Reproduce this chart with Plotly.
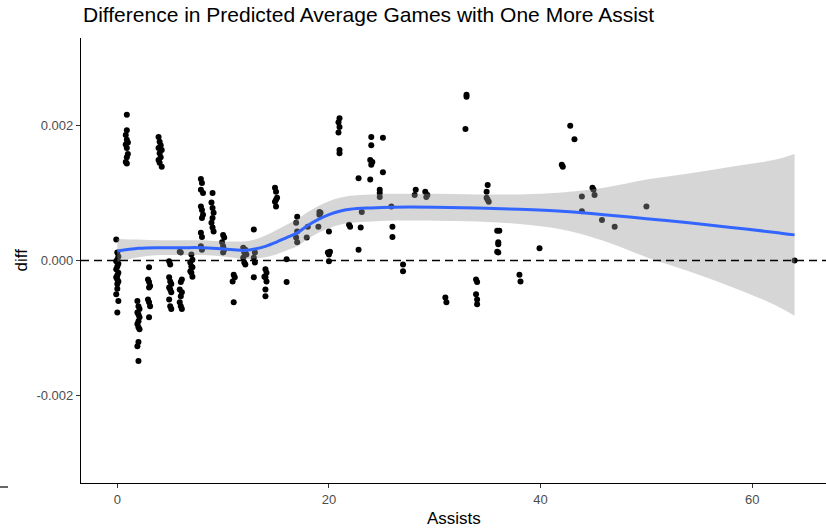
import plotly.graph_objects as go

# ---------------- data (diff values in thousandths, i.e. x 1e-3) ----------------
assists = [
    # ~0
    -0.1, 0.0, 0.1, 0.0, -0.1, 0.1, 0.0, -0.1, 0.1, 0.0, -0.1, 0.0, 0.1, 0.0, 0.0, -0.1, 0.1, 0.0,
    # ~1
    0.9, 0.9, 0.8, 0.9, 1.0, 0.8, 0.9, 1.0, 0.9, 0.8, 0.9,
    # ~2
    1.9, 2.0, 2.1, 1.9, 2.0, 2.1, 2.0, 1.9, 2.0, 2.1, 2.0, 1.9, 2.0,
    # ~3
    3.0, 2.9, 3.0, 3.1, 3.0, 2.9, 3.0, 3.1, 3.0,
    # ~4
    3.9, 4.0, 4.1, 3.9, 4.2, 4.0, 4.1, 3.9, 4.0, 4.2,
    # ~5
    4.9, 5.0, 4.9, 5.0, 5.1, 4.9, 5.0, 5.1, 4.9, 5.0, 5.1,
    # ~6
    5.9, 6.0, 6.1, 6.0, 5.9, 6.1, 6.0, 5.9, 6.0, 6.1,
    # ~7
    7.0, 7.1, 6.9, 7.0, 7.1, 6.9, 7.0, 7.1,
    # ~8
    7.9, 8.0, 7.9, 8.1, 7.9, 8.0, 8.1, 8.0, 7.9, 8.0, 7.9, 8.0,
    # ~9
    9.0, 8.9, 9.0, 9.1, 9.0, 8.9, 9.0, 9.1,
    # ~10
    10.0, 10.1, 9.9, 10.0, 10.1, 10.0,
    # ~11
    11.0, 11.1, 10.9, 11.0,
    # ~12
    11.9, 12.1, 12.0, 12.2, 11.9, 12.0, 12.1,
    # ~13
    12.9, 13.0, 12.9, 13.0, 12.9,
    # ~14
    14.0, 14.1, 13.9, 14.0, 14.1, 14.0, 14.0,
    # ~15
    14.9, 15.0, 15.1, 15.0, 14.9, 15.0,
    # ~16
    16.0, 16.0,
    # ~17
    17.0, 16.9, 17.0, 16.9, 17.0,
    # ~18
    18.0, 17.9,
    # ~19
    19.1, 19.2, 19.1, 19.0,
    # ~20
    20.0, 20.1, 19.9, 20.0, 20.0,
    # ~21
    21.0, 20.9, 21.0, 20.9, 21.0, 21.0,
    # ~22
    21.9, 22.0,
    # ~23
    22.8, 23.1, 23.0, 22.8,
    # ~24
    24.0, 24.0, 23.9, 24.1, 24.0, 23.9,
    # ~25
    25.1, 25.1, 24.8, 24.8, 24.8,
    # ~26
    25.9, 26.0, 26.0,
    # ~27
    27.0, 27.0,
    # ~28
    28.2, 28.1,
    # ~29
    29.1, 29.3, 29.2,
    # ~31
    31.0, 31.1,
    # ~33
    33.0, 33.0, 32.9,
    # ~34
    33.9, 34.0, 33.9, 34.0, 34.0,
    # ~35
    35.0, 34.9, 34.9, 35.0, 35.1,
    # ~36
    35.9, 36.1, 36.0, 36.0, 35.9, 36.0,
    # 38 .. 64
    38.0, 38.1,
    39.9,
    42.0, 42.1,
    42.8, 43.2,
    43.9, 43.9,
    44.9, 45.0, 45.1,
    45.8,
    47.0,
    50.0,
    64.0,
]

diff_milli = [
    0.31, 0.12, 0.06, 0.01, -0.01, -0.05, -0.09, -0.13, -0.18, -0.22, -0.25, -0.28, -0.31, -0.35, -0.42, -0.50, -0.60, -0.77,
    2.16, 1.93, 1.86, 1.79, 1.75, 1.72, 1.67, 1.58, 1.53, 1.46, 1.44,
    -0.60, -0.68, -0.72, -0.77, -0.80, -0.84, -0.90, -0.94, -0.99, -1.02, -1.21, -1.27, -1.49,
    -0.10, -0.28, -0.32, -0.38, -0.40, -0.58, -0.62, -0.68, -0.84,
    1.83, 1.76, 1.71, 1.67, 1.64, 1.59, 1.53, 1.49, 1.45, 1.39,
    -0.01, -0.06, -0.25, -0.31, -0.35, -0.40, -0.43, -0.47, -0.58, -0.68, -0.72,
    0.13, 0.12, -0.28, -0.32, -0.43, -0.47, -0.53, -0.62, -0.68, -0.72,
    0.09, 0.01, -0.03, -0.09, -0.10, -0.16, -0.18, -0.24,
    1.21, 1.15, 1.05, 1.00, 0.80, 0.75, 0.68, 0.63, 0.41, 0.35, 0.21, 0.16,
    1.00, 0.86, 0.78, 0.71, 0.63, 0.56, 0.49, 0.43,
    0.38, 0.34, 0.27, 0.21, 0.16, 0.12,
    -0.21, -0.25, -0.31, -0.62,
    0.19, 0.16, 0.12, 0.09, 0.04, -0.03, -0.06,
    0.46, 0.12, 0.04, -0.03, -0.25,
    -0.13, -0.18, -0.24, -0.25, -0.31, -0.43, -0.53,
    1.08, 1.02, 0.93, 0.90, 0.87, 0.80,
    0.02, -0.32,
    0.65, 0.56, 0.43, 0.34, 0.27,
    0.50, 0.34,
    0.72, 0.71, 0.68, 0.50,
    0.43, 0.13, 0.12, 0.09, -0.01,
    2.11, 2.05, 1.98, 1.90, 1.64, 1.59,
    0.53, 0.50,
    1.22, 0.72, 0.49, 0.16,
    1.83, 1.71, 1.49, 1.46, 1.42, 1.20,
    1.82, 1.31, 1.05, 1.00, 0.94,
    0.80, 0.50, 0.35,
    -0.06, -0.16,
    1.05, 0.97,
    1.02, 0.97, 0.94,
    -0.55, -0.62,
    2.46, 2.43, 1.95,
    -0.28, -0.32, -0.50, -0.58, -0.65,
    1.12, 1.02, 0.93, 0.90, 0.87,
    0.44, 0.44, 0.27, 0.24, 0.13, 0.12,
    -0.21, -0.31,
    0.18,
    1.42, 1.39,
    2.00, 1.80,
    0.95, 0.73,
    1.08, 1.05, 0.97,
    0.60,
    0.50,
    0.80,
    0.00,
]

# loess smooth and its confidence band (thousandths)
smooth_x = [0, 2, 4, 6, 8, 10, 11, 12, 13, 14, 15, 16, 17, 18, 19, 20, 21, 22, 24, 26, 30, 34, 38, 42, 46, 50, 54, 58, 62, 64]
smooth_fit = [0.14, 0.18, 0.19, 0.19, 0.19, 0.17, 0.16, 0.15, 0.17, 0.21, 0.27, 0.34, 0.41, 0.52, 0.61, 0.68, 0.73, 0.76, 0.78, 0.79,
              0.79, 0.78, 0.76, 0.73, 0.68, 0.62, 0.56, 0.49, 0.42, 0.38]
smooth_upper = [0.32, 0.31, 0.30, 0.30, 0.30, 0.28, 0.28, 0.28, 0.31, 0.37, 0.45, 0.53, 0.61, 0.72, 0.81, 0.88, 0.93, 0.96, 0.98, 0.99,
                0.99, 0.98, 0.98, 1.01, 1.08, 1.20, 1.29, 1.39, 1.49, 1.58]
smooth_lower = [-0.02, 0.05, 0.08, 0.08, 0.08, 0.06, 0.04, 0.02, 0.03, 0.05, 0.09, 0.15, 0.21, 0.32, 0.41, 0.48, 0.53, 0.56, 0.58, 0.59,
                0.59, 0.58, 0.54, 0.46, 0.29, 0.05, -0.16, -0.39, -0.65, -0.82]

x_ticks = [0, 20, 40, 60]
y_ticks = [-0.002, 0.0, 0.002]
y_tick_text = ["-0.002", "0.000", "0.002"]

title_text = "Difference in Predicted Average Games with One More Assist"
x_title = "Assists"
y_title = "diff"

# ---------------- figure ----------------
to_unit = lambda vals: [v / 1000.0 for v in vals]

fig = go.Figure()

fig.add_trace(go.Scatter(
    x=assists, y=to_unit(diff_milli), mode="markers",
    marker=dict(color="black", size=6, line=dict(width=0)),
    hoverinfo="skip", showlegend=False,
))

fig.add_trace(go.Scatter(
    x=smooth_x, y=to_unit(smooth_lower), mode="lines",
    line=dict(width=0, shape="spline", smoothing=1.0), hoverinfo="skip", showlegend=False,
))
fig.add_trace(go.Scatter(
    x=smooth_x, y=to_unit(smooth_upper), mode="lines",
    line=dict(width=0, shape="spline", smoothing=1.0), fill="tonexty",
    fillcolor="rgba(153,153,153,0.4)", hoverinfo="skip", showlegend=False,
))
fig.add_trace(go.Scatter(
    x=smooth_x, y=to_unit(smooth_fit), mode="lines",
    line=dict(color="#3366FF", width=3, shape="spline", smoothing=1.0),
    hoverinfo="skip", showlegend=False,
))

FONT = "Liberation Sans, Arial, Helvetica, sans-serif"

fig.add_shape(type="line", xref="paper", yref="y", x0=0, x1=1, y0=0, y1=0,
              line=dict(color="black", width=1.5, dash="8px,5px"), layer="above")

# small stray tick at lower-left of the source image
fig.add_shape(type="line", xref="paper", yref="paper", x0=-0.1087, x1=-0.098, y0=-0.009, y1=-0.009,
              line=dict(color="#333333", width=1.5), layer="above")

fig.update_layout(
    width=826, height=528,
    margin=dict(l=81, r=0, t=38, b=45, pad=0),
    plot_bgcolor="white", paper_bgcolor="white",
    font=dict(family=FONT, color="#4d4d4d", size=13),
    title=dict(text=title_text, x=0.0027, xref="paper", xanchor="left",
               y=1 - 15 / 528, yref="container", yanchor="middle",
               font=dict(family=FONT, size=21, color="black")),
    showlegend=False,
    xaxis=dict(range=[-3.43, 66.97], tickvals=x_ticks, showgrid=False, zeroline=False,
               showline=True, linecolor="black", linewidth=1.2,
               ticks="outside", ticklen=4, tickcolor="#333333", tickwidth=1,
               tickfont=dict(size=13, color="#4d4d4d")),
    yaxis=dict(range=[-0.0033, 0.0033], tickvals=y_ticks, ticktext=y_tick_text,
               showgrid=False, zeroline=False,
               showline=True, linecolor="black", linewidth=1.2,
               ticks="outside", ticklen=4, tickcolor="#333333", tickwidth=1,
               tickfont=dict(size=13, color="#4d4d4d")),
    annotations=[
        dict(text=x_title, xref="paper", yref="paper", x=0.5, y=-(518 - 483) / 445,
             xanchor="center", yanchor="middle", showarrow=False,
             font=dict(family=FONT, size=17, color="black")),
        dict(text=y_title, xref="paper", yref="paper", x=(21 - 81) / 745, y=0.5,
             xanchor="center", yanchor="middle", textangle=-90, showarrow=False,
             font=dict(family=FONT, size=17, color="black")),
    ],
)

fig.write_html("out.html")
